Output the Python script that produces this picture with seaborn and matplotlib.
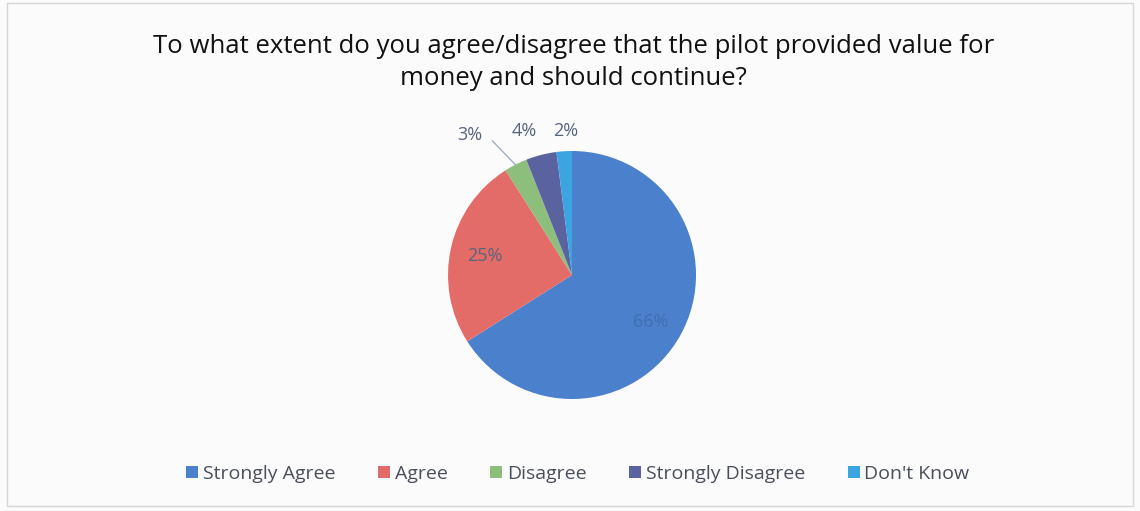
import numpy as np
import matplotlib
matplotlib.use("Agg")
import matplotlib.pyplot as plt
from matplotlib.patches import Patch, Rectangle
import seaborn as sns

categories = ["Strongly Agree", "Agree", "Disagree", "Strongly Disagree", "Don't Know"]
shares = [66, 25, 3, 4, 2]
colors = ["#4A80CC", "#E46C68", "#8DBE7C", "#5A63A0", "#3DA4E2"]
title = "To what extent do you agree/disagree that the pilot provided value for\nmoney and should continue?"

# radial position of each percentage label (in pie radii) and small angular nudges
label_radius = [0.74, 0.72, 1.40, 1.22, 1.16]
label_nudge = [-2, 0, 9, 4, -1]
label_colors = ["#3F6FB0", "#58647E", "#58647E", "#58647E", "#58647E"]

sns.set_theme(style="white")
plt.rcParams["font.family"] = ["Open Sans", "DejaVu Sans"]

fig = plt.figure(figsize=(11.4, 5.11), dpi=100)
fig.patch.set_facecolor("#FBFBFB")
fig.patches.append(Rectangle((0.006, 0.01), 0.988, 0.985, transform=fig.transFigure,
                             fill=False, edgecolor="#D6D6D6", linewidth=1.0))

W, H = 1140, 511
cx, cy, r = 572, 275, 124
ax = fig.add_axes([(cx - r) / W, (H - cy - r) / H, 2 * r / W, 2 * r / H])
ax.set_facecolor("none")

wedges, _ = ax.pie(shares, colors=colors, startangle=90, counterclock=False,
                   radius=1.0, wedgeprops=dict(linewidth=0))
ax.set_xlim(-1, 1)
ax.set_ylim(-1, 1)
ax.set_aspect("equal")
ax.axis("off")

for i, (w, val) in enumerate(zip(wedges, shares)):
    mid = np.deg2rad((w.theta1 + w.theta2) / 2 + label_nudge[i])
    rr = label_radius[i]
    x, y = rr * np.cos(mid), rr * np.sin(mid)
    ax.text(x, y, f"{val}%", ha="center", va="center", fontsize=13,
            color=label_colors[i], clip_on=False)
    if categories[i] == "Disagree":
        edge_mid = np.deg2rad((w.theta1 + w.theta2) / 2)
        ax.plot([x + 0.18, 0.99 * np.cos(edge_mid)], [y - 0.05, 0.99 * np.sin(edge_mid)],
                color="#9AA8BC", linewidth=0.9, clip_on=False)

fig.text(0.503, 0.877, title, ha="center", va="center", fontsize=18.5,
         color="#111111", linespacing=1.38)

handles = [Patch(facecolor=c, edgecolor="none") for c in colors]
fig.legend(handles, categories, loc="center", bbox_to_anchor=(0.507, 0.073), ncol=5,
           frameon=False, fontsize=14, handlelength=0.6, handleheight=0.6,
           handletextpad=0.25, columnspacing=2.2, labelcolor="#4A4F5C")

fig.savefig("out.png", dpi=100, facecolor=fig.get_facecolor())
